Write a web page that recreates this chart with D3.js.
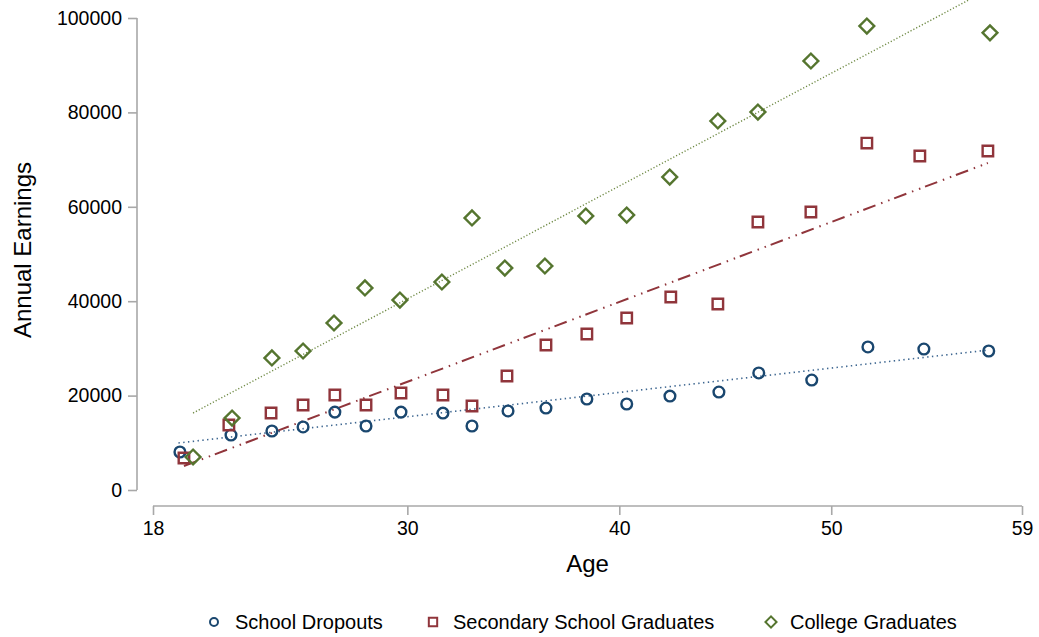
<!DOCTYPE html>
<html>
<head>
<meta charset="utf-8">
<script src="https://cdn.jsdelivr.net/npm/d3@7"></script>
<style>
  body { margin: 0; background: #fff; }
  svg text { font-family: "Liberation Sans", Arial, Helvetica, sans-serif; fill: #000; }
</style>
</head>
<body>
<div id="chart"></div>
<script>
// Width and height
var chart_width  = 1039;
var chart_height = 637;

// Data
var dropAges = [19.27, 21.68, 23.61, 25.08, 26.58, 28.05, 29.7, 31.68, 33.05, 34.75,
                36.54, 38.47, 40.35, 42.39, 44.7, 46.58, 49.08, 51.73, 54.37, 57.43];
var dropEarn = [8050, 11650, 12500, 13350, 16500, 13560, 16500, 16300, 13560, 16740,
                17370, 19280, 18220, 19900, 20760, 24790, 23300, 30300, 29870, 29450];

var secAges = [19.46, 21.58, 23.57, 25.08, 26.58, 28.05, 29.7, 31.68, 33.05, 34.7,
               36.54, 38.47, 40.35, 42.43, 44.65, 46.54, 49.04, 51.68, 54.18, 57.39];
var secEarn = [6780, 13770, 16300, 18000, 20130, 18000, 20550, 20130, 17800, 24150,
               30720, 33050, 36440, 40890, 39400, 56780, 58900, 73500, 70760, 71820];

var colAges = [19.89, 21.73, 23.61, 25.08, 26.54, 28.0, 29.65, 31.63, 33.05, 34.6,
               36.49, 38.42, 40.35, 42.38, 44.65, 46.54, 49.04, 51.68, 57.49];
var colEarn = [6990, 15250, 27970, 29450, 35380, 42800, 40250, 44070, 57630, 47030,
               47460, 58050, 58260, 66310, 78180, 80080, 90890, 98300, 96850];

// fitted lines: [start, end] as [age, earnings]
var dropFit = [[19.2, 9960], [57.43, 29660]];
var secFit  = [[19.46, 5080], [57.39, 69280]];
var colFit  = [[19.89, 16310], [57.49, 106200]];

var xTicks = [18, 30, 40, 50, 59];
var yTicks = [0, 20000, 40000, 60000, 80000, 100000];

var seriesNames = ["School Dropouts", "Secondary School Graduates", "College Graduates"];

var navy   = "#1a476f";
var maroon = "#90353b";
var green  = "#55752f";

var svg = d3.select("#chart")
    .append("svg")
    .attr("width", chart_width)
    .attr("height", chart_height);

var x = d3.scaleLinear().domain([18, 59]).range([153, 1022]);
var y = d3.scaleLinear().domain([0, 100000]).range([490, 18]);

// clip for plot region (top edge of picture)
svg.append("defs").append("clipPath").attr("id", "clip")
    .append("rect").attr("x", 0).attr("y", 0).attr("width", chart_width).attr("height", 500);

// Axes
var yAxis = svg.append("g")
    .attr("transform", "translate(137,0)")
    .call(d3.axisLeft(y).tickValues(yTicks).tickSize(9).tickPadding(6).tickFormat(d3.format("d")));
var xAxis = svg.append("g")
    .attr("transform", "translate(0,506)")
    .call(d3.axisBottom(x).tickValues(xTicks).tickSize(9).tickPadding(6));

[xAxis, yAxis].forEach(function(a){
    a.select(".domain").attr("stroke", "#a8a8a8").attr("stroke-width", 1.6);
    a.selectAll(".tick line").attr("stroke", "#a8a8a8").attr("stroke-width", 1.6);
    a.selectAll(".tick text").style("font-size", "19.5px");
});
// d3 domain includes outer tick, redraw plain
yAxis.select(".domain").attr("d", "M0," + y(100000) + "V" + y(0));
xAxis.select(".domain").attr("d", "M" + x(18) + ",0H" + x(59));

// axis titles
svg.append("text")
    .attr("x", x(38.5))
    .attr("y", 572)
    .attr("text-anchor", "middle")
    .style("font-size", "24px")
    .text("Age");
svg.append("text")
    .attr("transform", "translate(31," + (y(50000) - 4) + ") rotate(-90)")
    .attr("text-anchor", "middle")
    .style("font-size", "24px")
    .text("Annual Earnings");

var plot = svg.append("g").attr("clip-path", "url(#clip)");
var line = d3.line().x(function(d){ return x(d[0]); }).y(function(d){ return y(d[1]); });

// fitted lines
plot.append("path").datum(colFit).attr("d", line)
    .attr("fill", "none").attr("stroke", "#6f8a45").attr("stroke-width", 1.4)
    .attr("stroke-dasharray", "1.2,2");
plot.append("path").datum(secFit).attr("d", line)
    .attr("fill", "none").attr("stroke", maroon).attr("stroke-width", 2)
    .attr("stroke-dasharray", "13,6,1.5,6,1.5,5");
plot.append("path").datum(dropFit).attr("d", line)
    .attr("fill", "none").attr("stroke", "#3d6690").attr("stroke-width", 1.6)
    .attr("stroke-dasharray", "1.4,3.4");

// markers
var circle  = d3.symbol().type(d3.symbolCircle).size(90);
var square  = d3.symbol().type(d3.symbolSquare).size(110);
var diamond = d3.symbol().type(d3.symbolSquare).size(110);

function drawPoints(ages, vals, sym, color, rot){
    plot.selectAll(null)
        .data(ages.map(function(a, i){ return [a, vals[i]]; }))
        .enter()
        .append("path")
        .attr("d", sym)
        .attr("transform", function(d){
            return "translate(" + x(d[0]) + "," + y(d[1]) + ")" + (rot ? " rotate(45)" : "");
        })
        .attr("fill", "none")
        .attr("stroke", color)
        .attr("stroke-width", 2.4);
}
drawPoints(dropAges, dropEarn, circle, navy, false);
drawPoints(secAges, secEarn, square, maroon, false);
drawPoints(colAges, colEarn, diamond, green, true);

// legend
var legendItems = [
    { name: seriesNames[0], sym: d3.symbol().type(d3.symbolCircle).size(50), color: navy, rot: false, mx: 214, tx: 235 },
    { name: seriesNames[1], sym: d3.symbol().type(d3.symbolSquare).size(70), color: maroon, rot: false, mx: 433, tx: 453 },
    { name: seriesNames[2], sym: d3.symbol().type(d3.symbolSquare).size(62), color: green, rot: true, mx: 771, tx: 790 }
];
var legend = svg.append("g");
legendItems.forEach(function(d){
    legend.append("path")
        .attr("d", d.sym)
        .attr("transform", "translate(" + d.mx + ",622)" + (d.rot ? " rotate(45)" : ""))
        .attr("fill", "none")
        .attr("stroke", d.color)
        .attr("stroke-width", 2);
    legend.append("text")
        .attr("x", d.tx)
        .attr("y", 629)
        .style("font-size", "20px")
        .text(d.name);
});
</script>
</body>
</html>
